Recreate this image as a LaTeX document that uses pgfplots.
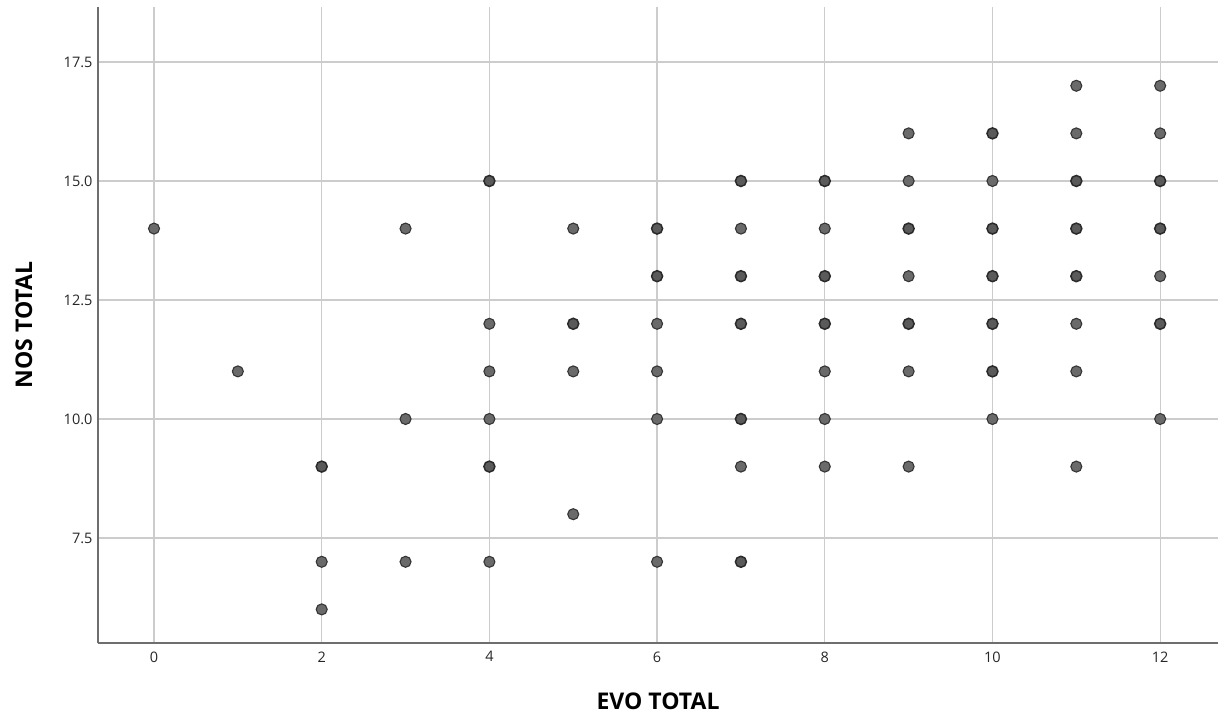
\documentclass[border=0pt]{standalone}
\usepackage{pgfplots}
\pgfplotsset{compat=1.18}
\usepackage{fontspec}
\setmainfont{Open Sans}
\definecolor{gridc}{HTML}{CCCCCC}
\definecolor{axc}{HTML}{6E6E6E}
\definecolor{ptfill}{HTML}{6A6A6A}
\definecolor{ptedge}{HTML}{353535}
\begin{document}
\begin{tikzpicture}[x=1pt,y=1pt]
\path[use as bounding box] (-98,-72) rectangle (1127,643);
\begin{axis}[
  at={(0,0)}, anchor=south west,
  scale only axis, width=1120pt, height=636pt,
  xmin=-0.668, xmax=12.69, ymin=5.294, ymax=18.655,
  axis x line*=bottom, axis y line*=left,
  axis line style={axc, line width=1.3pt},
  xtick={0,2,4,6,8,10,12},
  ytick={7.5,10,12.5,15,17.5},
  yticklabel style={/pgf/number format/fixed, /pgf/number format/fixed zerofill, /pgf/number format/precision=1, xshift=-2pt},
  /pgf/number format/assume math mode=true,
  major tick length=0pt,
  grid=major,
  grid style={gridc, line width=1.3pt},
  tick label style={font=\fontsize{14.5}{14.5}\selectfont, text=black!85},
  xticklabel style={yshift=-5pt},
  xlabel={\textbf{EVO TOTAL}},
  ylabel={\textbf{NOS TOTAL}},
  label style={font=\fontsize{23}{23}\selectfont, inner sep=0pt},
  x label style={at={(axis description cs:0.5,-0.1053)}, anchor=base},
  y label style={at={(axis description cs:-0.0589,0.5)}, anchor=base},
  clip=false,
]
\addplot[only marks, mark=*, mark size=5.5pt, mark options={fill=ptfill, draw=ptedge, line width=1.1pt}]
coordinates {
(0,14)(1,11)(2,7)(2,6)(3,14)(3,10)(3,7)(4,12)(4,11)(4,10)(4,7)
(5,14)(5,11)(5,8)(6,12)(6,11)(6,10)(6,7)(7,14)(7,9)
(8,14)(8,11)(8,10)(8,9)(9,16)(9,15)(9,13)(9,11)(9,9)
(10,15)(10,10)(11,17)(11,16)(11,12)(11,11)(11,9)
(12,17)(12,16)(12,13)(12,10)
};
\addplot[only marks, mark=*, mark size=5.5pt, mark options={fill=ptfill!85!black, draw=ptedge!80!black, line width=1.5pt}]
coordinates {
(2,9)(4,15)(4,9)(5,12)(6,14)(6,13)(7,15)(7,13)(7,12)(7,10)(7,7)
(8,15)(8,13)(8,12)(9,14)(9,12)(10,16)(10,14)(10,13)(10,12)(10,11)
(11,15)(11,14)(11,13)(12,15)(12,14)(12,12)
};
\end{axis}
\end{tikzpicture}
\end{document}
